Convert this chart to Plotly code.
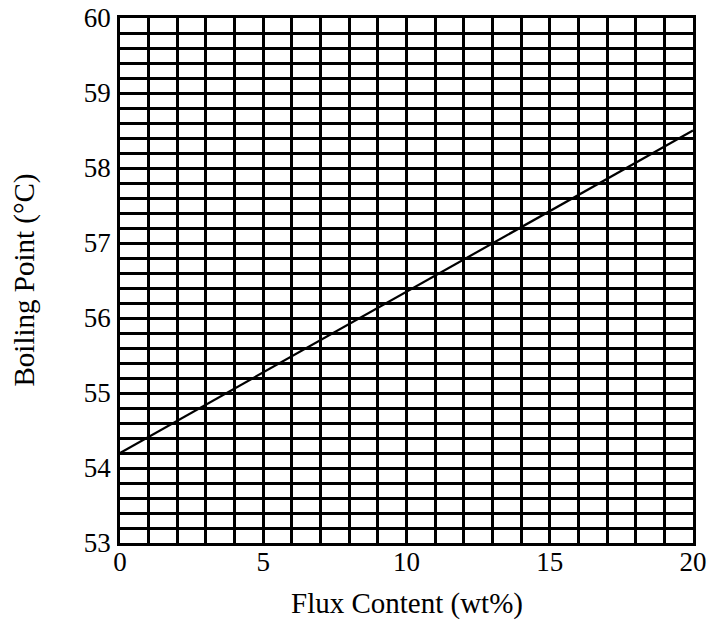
import plotly.graph_objects as go

# Boiling point vs flux content
flux_content = [0, 20]
boiling_point = [54.2, 58.5]

x_ticks = [0, 5, 10, 15, 20]
y_ticks = [53, 54, 55, 56, 57, 58, 59, 60]

x_title = "Flux Content (wt%)"
y_title = "Boiling Point (°C)"

font_family = "Liberation Serif, Times New Roman, serif"
line_w = 2.5

fig = go.Figure()
fig.add_trace(go.Scatter(
    x=flux_content, y=boiling_point, mode="lines",
    line=dict(color="black", width=2.2), showlegend=False,
))

axis_common = dict(
    showline=True, linecolor="black", linewidth=line_w, mirror=True,
    showgrid=True, gridcolor="black", gridwidth=line_w,
    zeroline=False, ticks="", automargin=False,
    tickfont=dict(family=font_family, size=27, color="black"),
)

fig.update_xaxes(
    range=[0, 20], tickvals=x_ticks, ticktext=[str(v) for v in x_ticks],
    minor=dict(dtick=1, showgrid=True, gridcolor="black", gridwidth=line_w),
    ticklabelstandoff=-7,
    **axis_common,
)
fig.update_yaxes(
    range=[53, 60], tickvals=y_ticks, ticktext=[str(v) for v in y_ticks],
    minor=dict(dtick=0.2, showgrid=True, gridcolor="black", gridwidth=line_w),
    ticklabelstandoff=1,
    **axis_common,
)

# Axis titles as paper-anchored annotations
fig.add_annotation(
    text=x_title, xref="paper", yref="paper", x=0.5, y=0, yshift=-60,
    showarrow=False, xanchor="center", yanchor="middle",
    font=dict(family=font_family, size=29, color="black"),
)
fig.add_annotation(
    text=y_title, xref="paper", yref="paper", x=0, y=0.5, xshift=-96,
    showarrow=False, textangle=-90, xanchor="center", yanchor="middle",
    font=dict(family=font_family, size=29, color="black"),
)

fig.update_layout(
    width=709, height=623,
    margin=dict(l=120, r=16, t=18, b=80),
    plot_bgcolor="white", paper_bgcolor="white",
    font=dict(family=font_family, color="black"),
)

fig.write_html("out.html")
